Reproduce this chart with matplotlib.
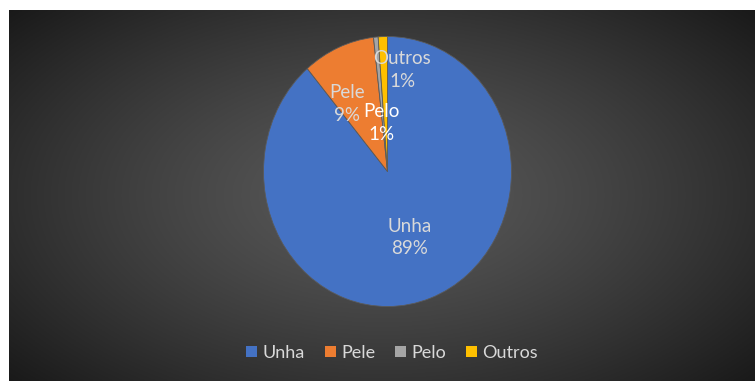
import numpy as np
import matplotlib.pyplot as plt
from matplotlib.patches import Patch

# data
labels = ["Unha", "Pele", "Pelo", "Outros"]
values = [88.8, 9.4, 0.6, 1.2]
colors = ["#4472C4", "#ED7D31", "#A5A5A5", "#FFC000"]

font = ["Lato", "DejaVu Sans"]
plt.rcParams["font.family"] = font

W, H = 755, 381
fig = plt.figure(figsize=(W / 100, H / 100), dpi=100)
fig.patch.set_facecolor("white")

# dark radial gradient background
bg = fig.add_axes([9 / W, 0, (W - 9) / W, (H - 10) / H])
yy, xx = np.mgrid[-1:1:200j, -1:1:400j]
r = np.sqrt(xx ** 2 + (yy * 0.9) ** 2)
shade = np.clip(0.35 - 0.17 * r ** 1.3, 0, 1)
bg.imshow(np.dstack([shade] * 3), aspect="auto", extent=(0, 1, 0, 1))
bg.set_axis_off()

# pie (slightly stretched vertically, like the original)
cx, cy, rx, ry = 387.5, 171.5, 124, 135
ax = fig.add_axes([(cx - rx) / W, (H - cy - ry) / H, 2 * rx / W, 2 * ry / H])
wedges, _ = ax.pie(values, colors=colors, startangle=90, counterclock=False,
                   wedgeprops=dict(linewidth=0.6, edgecolor="#5a5a5a"))
ax.set_aspect("auto")
ax.set_xlim(-1, 1)
ax.set_ylim(-1, 1)

# data labels (small slices get hand-placed labels, like Excel does)
total = sum(values)
label_pos = {"Pele": (-0.33, 0.50), "Pelo": (-0.045, 0.36), "Outros": (0.12, 0.75)}
start = 90.0
for lab, v in zip(labels, values):
    mid = np.deg2rad(start - v / total * 360 / 2)
    start -= v / total * 360
    if lab in label_pos:
        x, y = label_pos[lab]
    else:
        x, y = 0.52 * np.cos(mid), 0.52 * np.sin(mid)
    col = "white" if lab == "Pelo" else "#D9D9D9"
    ax.text(x, y, f"{lab}\n{round(v / total * 100):.0f}%", ha="center", va="center",
            color=col, fontsize=13.5, linespacing=1.4)

handles = [Patch(facecolor=c, edgecolor="none") for c in colors]
fig.legend(handles, labels, loc="center", bbox_to_anchor=(392 / W, 1 - 353 / H), ncol=4,
           frameon=False, fontsize=13, labelcolor="#D9D9D9", handlelength=0.6,
           handleheight=0.6, handletextpad=0.3, columnspacing=1.1)

fig.savefig("out.png", dpi=100, facecolor=fig.get_facecolor())
